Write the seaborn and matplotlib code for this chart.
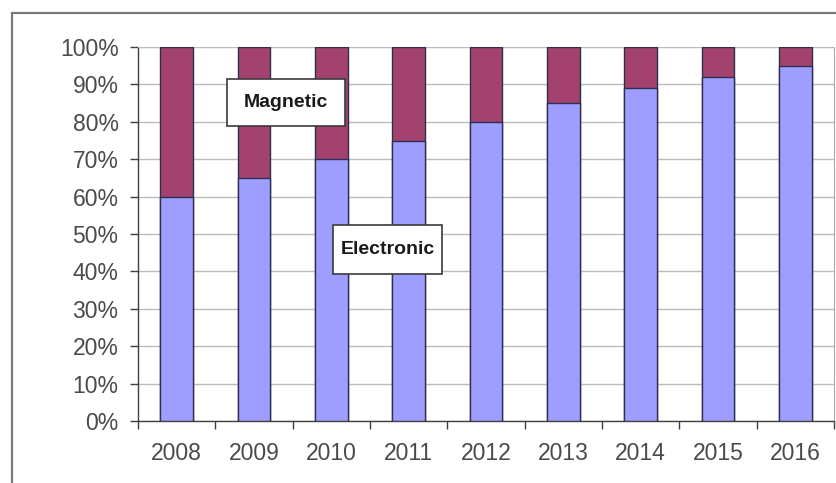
import numpy as np
import pandas as pd
import matplotlib
matplotlib.use("Agg")
import matplotlib.pyplot as plt
from matplotlib.patches import Rectangle
import seaborn as sns

# Share of storage by technology, per year (percent)
years = ["2008", "2009", "2010", "2011", "2012", "2013", "2014", "2015", "2016"]
electronic = [60, 65, 70, 75, 80, 85, 89, 92, 95]
magnetic = [40, 35, 30, 25, 20, 15, 11, 8, 5]
series_names = ["Electronic", "Magnetic"]
y_ticks = list(range(0, 101, 10))

sns.set_style("ticks")
plt.rcParams["font.family"] = ["Liberation Sans", "DejaVu Sans"]

df = pd.DataFrame({"year": years, "Electronic": electronic, "Magnetic": magnetic})
df["stack_top"] = df["Electronic"] + df["Magnetic"]

W, H = 836, 483
fig = plt.figure(figsize=(W / 100, H / 100), dpi=100)
fig.patch.set_facecolor("white")

# outer chart frame (runs off the right and bottom edges)
frame_left, frame_top = 12 / W, 1 - 13 / H
fig.patches.append(Rectangle((frame_left, -0.2), 1.3, frame_top + 0.2, transform=fig.transFigure,
                             fill=False, edgecolor="#7a7a7a", linewidth=1.6))

ax = fig.add_axes([138 / W, 1 - 421 / H, (834 - 138) / W, (421 - 47) / H])

edge = "#2e2e50"
# Magnetic segment sits on top of Electronic: draw the full stack first
sns.barplot(data=df, x="year", y="stack_top", order=years, color="#A3416F", saturation=1,
            width=0.42, edgecolor=edge, linewidth=1, errorbar=None, ax=ax, zorder=3)
sns.barplot(data=df, x="year", y="Electronic", order=years, color="#9E9EFF", saturation=1,
            width=0.42, edgecolor=edge, linewidth=1, errorbar=None, ax=ax, zorder=4)

ax.set_xlim(-0.5, len(years) - 0.5)
ax.set_ylim(0, 100)
ax.set_xlabel("")
ax.set_ylabel("")

ax.set_yticks(y_ticks)
ax.set_yticklabels([f"{v}%" for v in y_ticks])
ax.set_xticks(range(len(years)))
ax.set_xticklabels(years)
ax.set_xticks(np.arange(-0.5, len(years), 1), minor=True)

tick_color = "#4a4a4a"
ax.tick_params(axis="y", which="major", length=6, width=1, color="#404040",
               labelsize=16.5, labelcolor=tick_color, pad=8)
ax.tick_params(axis="x", which="major", length=0, labelsize=16.5, labelcolor=tick_color, pad=15)
ax.tick_params(axis="x", which="minor", length=6, width=1, color="#404040", direction="out")

ax.yaxis.grid(True, color="#bcbcbc", linewidth=1)
ax.set_axisbelow(True)

for side in ("left", "bottom"):
    ax.spines[side].set_color("#404040")
    ax.spines[side].set_linewidth(1)
ax.spines["right"].set_visible(True)
ax.spines["right"].set_color("#a8a8a8")
ax.spines["top"].set_visible(True)
ax.spines["top"].set_color("#bcbcbc")

# series name boxes
def name_box(cx, cy, w, h, text):
    ax.add_patch(Rectangle((cx - w / 2, cy - h / 2), w, h, facecolor="white",
                           edgecolor="#3a3a3a", linewidth=1.2, zorder=6, clip_on=False))
    ax.text(cx, cy, text, ha="center", va="center", fontsize=14, fontweight="bold",
            color="#1a1a1a", zorder=7)

name_box(1.414, 85.2, 1.526, 12.6, series_names[1])
name_box(2.727, 45.9, 1.41, 13.1, series_names[0])

fig.savefig("out.png", dpi=100)
